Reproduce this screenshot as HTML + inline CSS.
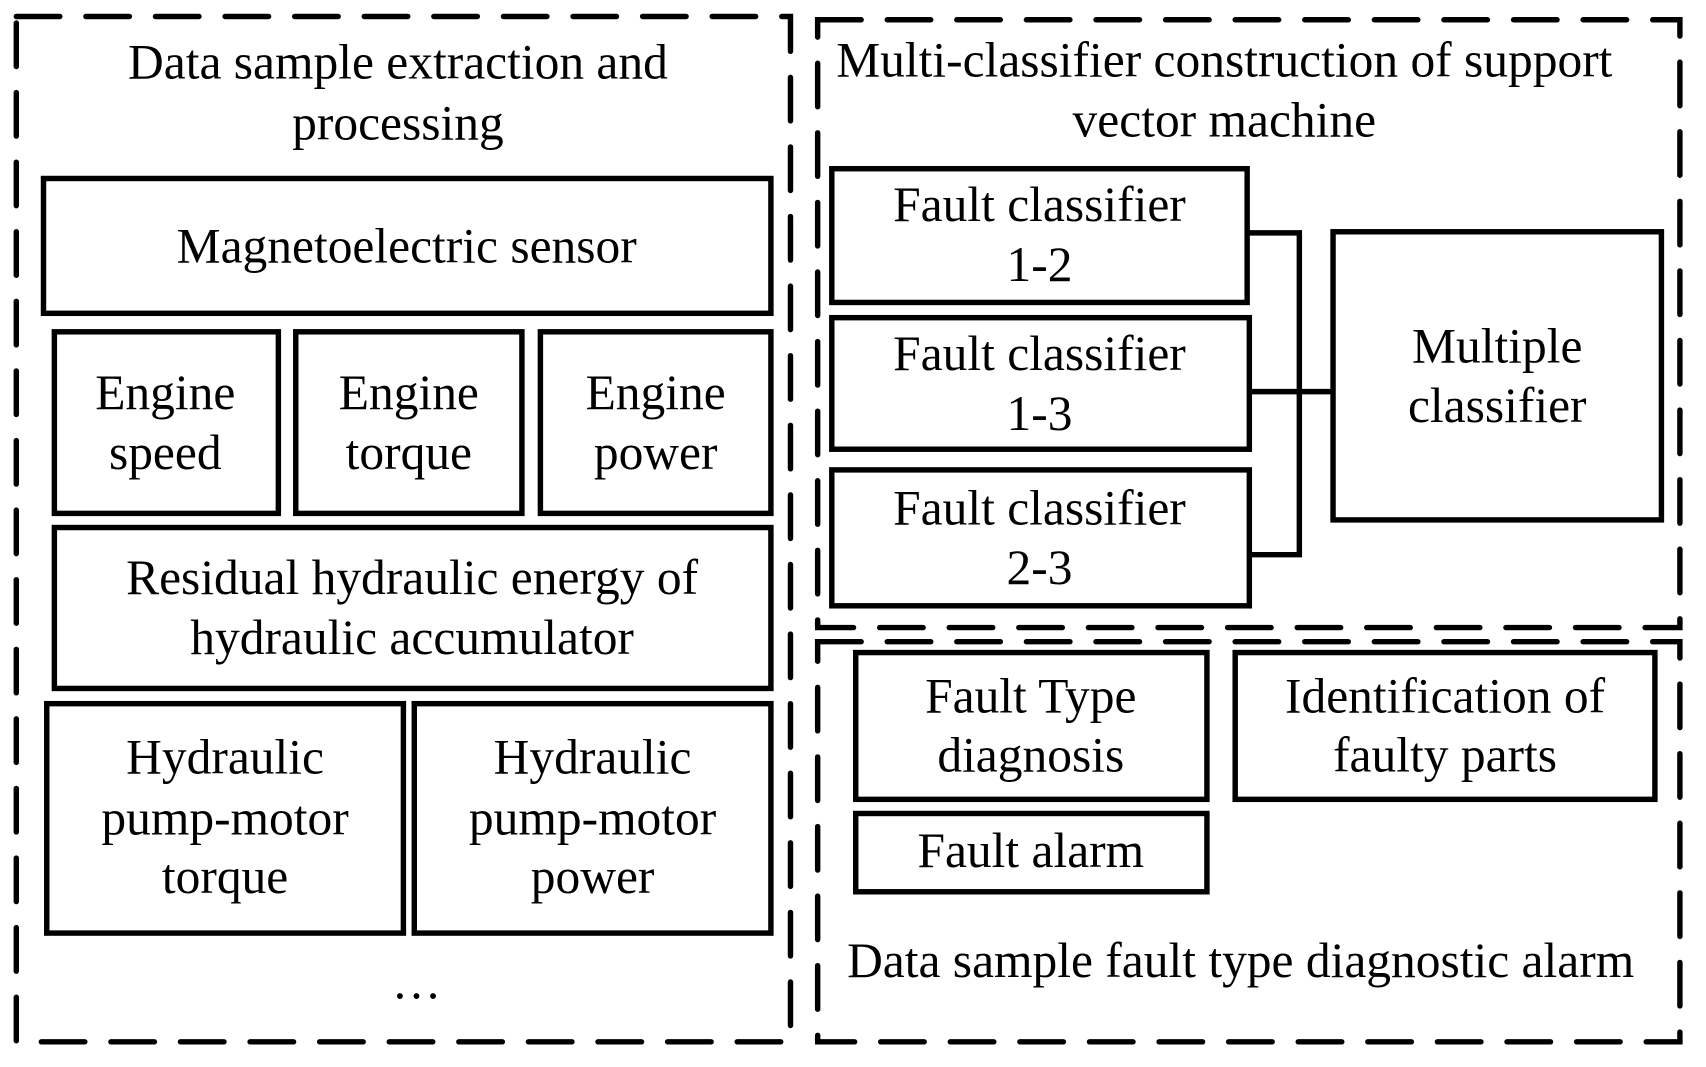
<!DOCTYPE html>
<html><head><style>html,body{margin:0;padding:0;background:#fff}svg{display:block}</style></head>
<body>
<svg width="1706" height="1067" viewBox="0 0 1569 981" xmlns="http://www.w3.org/2000/svg" style="font-family:'Liberation Serif',serif" font-size="45.5" text-anchor="middle" dominant-baseline="central">
<g fill="none" stroke="#000" stroke-width="5" stroke-dasharray="40 24" stroke-linecap="round">
<rect x="15" y="15" width="712" height="943"/>
<rect x="752" y="18" width="793" height="559"/>
<rect x="752" y="590" width="793" height="368"/>
</g>
<g fill="none" stroke="#000" stroke-width="5">
<rect x="40" y="164" width="669" height="124"/>
<rect x="50" y="305" width="206" height="167"/>
<rect x="272" y="305" width="208" height="167"/>
<rect x="497" y="305" width="212" height="167"/>
<rect x="50" y="485" width="659" height="148"/>
<rect x="43" y="647" width="328" height="211"/>
<rect x="381" y="647" width="328" height="211"/>
<rect x="765" y="155" width="382" height="123"/>
<rect x="765" y="292" width="384" height="121"/>
<rect x="765" y="432" width="384" height="125"/>
<rect x="1226" y="213" width="302" height="265"/>
<rect x="787" y="600" width="323" height="135"/>
<rect x="1136" y="600" width="386" height="135"/>
<rect x="787" y="748" width="323" height="72"/>
<polyline points="1147,214 1195,214 1195,510 1149,510"/>
<line x1="1149" y1="360" x2="1226" y2="360"/>
</g>
<g fill="#000">
<text x="366" y="57">Data sample extraction and</text>
<text x="366" y="113">processing</text>
<text x="1126" y="55">Multi-classifier construction of support</text>
<text x="1126" y="110">vector machine</text>
<text x="374" y="226">Magnetoelectric sensor</text>
<text x="152" y="361">Engine</text><text x="152" y="416">speed</text>
<text x="376" y="361">Engine</text><text x="376" y="416">torque</text>
<text x="603" y="361">Engine</text><text x="603" y="416">power</text>
<text x="379" y="531">Residual hydraulic energy of</text>
<text x="379" y="586">hydraulic accumulator</text>
<text x="207" y="696">Hydraulic</text><text x="207" y="752">pump-motor</text><text x="207" y="806">torque</text>
<text x="545" y="696">Hydraulic</text><text x="545" y="752">pump-motor</text><text x="545" y="806">power</text>
<text x="383" y="903">…</text>
<text x="956" y="188">Fault classifier</text><text x="956" y="243">1-2</text>
<text x="956" y="325">Fault classifier</text><text x="956" y="380">1-3</text>
<text x="956" y="467">Fault classifier</text><text x="956" y="522">2-3</text>
<text x="1377" y="318">Multiple</text><text x="1377" y="373">classifier</text>
<text x="948" y="640">Fault Type</text><text x="948" y="694">diagnosis</text>
<text x="1329" y="640">Identification of</text><text x="1329" y="694">faulty parts</text>
<text x="948" y="782">Fault alarm</text>
<text x="1141" y="883">Data sample fault type diagnostic alarm</text>
</g>
</svg>
</body></html>
